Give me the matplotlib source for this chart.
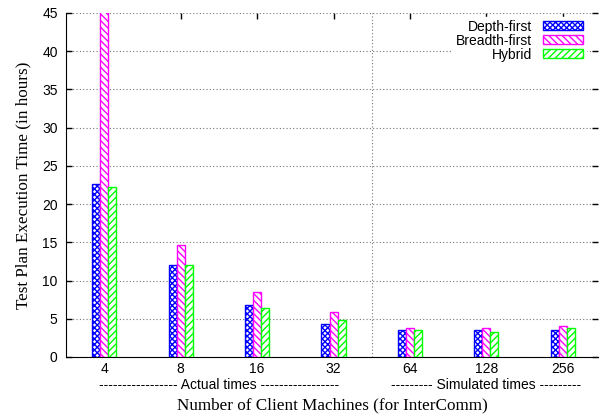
import numpy as np
import matplotlib
matplotlib.use("Agg")
import matplotlib.pyplot as plt

# --------------------------------------------------
# Daten
# --------------------------------------------------
clients = ["4", "8", "16", "32", "64", "128", "256"]
depth_first = [22.6, 12.1, 6.8, 4.3, 3.5, 3.5, 3.5]
breadth_first = [46.0, 14.6, 8.5, 5.9, 3.8, 3.8, 4.05]
hybrid = [22.2, 12.1, 6.4, 4.85, 3.5, 3.3, 3.85]
yticks = [0, 5, 10, 15, 20, 25, 30, 35, 40, 45]

series = [
    ("Depth-first", depth_first, "#0000ff", "xxxxxx"),
    ("Breadth-first", breadth_first, "#ff00ff", "\\\\\\\\\\"),
    ("Hybrid", hybrid, "#00ff00", "/////"),
]

sans = "Liberation Sans"
serif = "Liberation Serif"
plt.rcParams["hatch.linewidth"] = 1.0

fig = plt.figure(figsize=(6.01, 4.20), dpi=100)
ax = fig.add_axes([66 / 601, 1 - 357 / 420, (598 - 66) / 601, (357 - 13) / 420])

x = np.arange(len(clients))
w = 0.105
for i, (name, vals, col, hatch) in enumerate(series):
    ax.bar(x + (i - 1) * w, vals, width=w, facecolor="white", edgecolor=col,
           hatch=hatch, linewidth=1.0, label=name, zorder=3)

ax.set_xlim(-0.5, 6.46)
ax.set_ylim(0, 45)
ax.set_yticks(yticks)
ax.set_xticks(x)
ax.set_xticklabels(clients, fontsize=10, family=sans)
for lab in ax.get_yticklabels():
    lab.set_family(sans)
    lab.set_fontsize(10)

ax.spines["top"].set_visible(False)
ax.spines["right"].set_visible(False)
ax.tick_params(axis="both", direction="in", length=4, top=True, right=True,
               width=1.0)
ax.tick_params(axis="x", pad=3.5)
ax.tick_params(axis="y", pad=6)
ax.yaxis.grid(True, linestyle=(0, (1, 2)), color="#777777", linewidth=0.8, zorder=0)
ax.axvline(3.5, linestyle=(0, (1, 2)), color="#777777", linewidth=0.8, zorder=0)

# Gruppenbeschriftungen unter den Ticks
ax.text(1.5, -0.08, "----------------- Actual times -----------------",
        transform=ax.get_xaxis_transform(), ha="center", va="center",
        fontsize=10, family=sans)
ax.text(5.0, -0.08, "--------- Simulated times ---------",
        transform=ax.get_xaxis_transform(), ha="center", va="center",
        fontsize=10, family=sans)

ax.set_xlabel("Number of Client Machines (for InterComm)", family=serif,
              fontsize=12.3, labelpad=15.5)
ax.set_ylabel("Test Plan Execution Time (in hours)", family=serif,
              fontsize=12.3, labelpad=8)

leg = ax.legend(loc="upper right", bbox_to_anchor=(586 / 601, 1 - 17 / 420),
                bbox_transform=fig.transFigure, markerfirst=False, frameon=True,
                prop={"family": sans, "size": 10},
                handlelength=2.9, handleheight=0.6, labelspacing=0.0,
                borderaxespad=0.0, borderpad=0.2, handletextpad=0.8)
leg.get_frame().set_edgecolor("white")
leg.get_frame().set_facecolor("white")
leg.get_frame().set_alpha(1)
for t in leg.get_texts():
    t.set_ha("right")
leg.set_zorder(5)

fig.savefig("out.png", dpi=100)
